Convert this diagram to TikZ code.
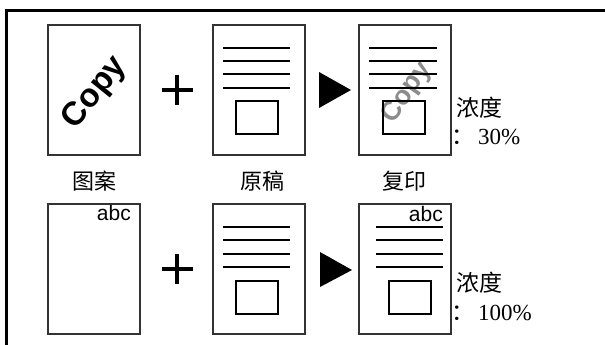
\documentclass[tikz,border=0pt]{standalone}
\usepackage{fontspec}
\setmainfont{Liberation Serif}
\setsansfont{Liberation Sans}
\newfontfamily\cjk{Noto Sans CJK SC}
\begin{document}
\begin{tikzpicture}[x=1pt,y=-1pt,
  page/.style={draw=black!80, line width=1.2pt, fill=white, inner sep=0pt, outer sep=0pt,
    minimum width=92pt, minimum height=130pt, anchor=north west},
  rulel/.style={line width=1.9pt},
  smallbox/.style={draw, line width=1.6pt, inner sep=0pt, minimum width=42pt, minimum height=33pt, anchor=north west},
  plussign/.style={line width=4.8pt},
  tri/.style={fill=black},
  cjklabel/.style={font=\cjk\fontsize{22}{24}\selectfont, inner sep=0pt},
  valtext/.style={font=\fontsize{23}{24}\selectfont, inner sep=0pt, anchor=west},
  abctext/.style={font=\sffamily\fontsize{21}{22}\selectfont, inner sep=0pt, anchor=north east},
  wm/.style={font=\sffamily\bfseries\fontsize{33}{34}\selectfont, inner sep=0pt}
]
\useasboundingbox (0,0) rectangle (605,345);
\fill[white] (0,0) rectangle (605,345);
% frame
\draw[line width=3pt] (6.5,345) -- (6.5,10.5) -- (605,10.5);

% ---------- row 1 ----------
\node[page] (pat1) at (48,25) {};
\node[wm, rotate=51] (cp1) at (95,93) {Copy};
\draw[plussign] (162,90) -- (193,90) (177,75) -- (177,105);
\node[page] (orig1) at (213,25) {};
\foreach \yy in {48,61,74,88} \draw[rulel] (223,\yy) -- (290,\yy);
\node[smallbox] (orect1) at (235,100) {};
\fill[tri] (319,72) -- (351,90) -- (319,108) -- cycle;
\node[page] (copy1) at (359,25) {};
\node[wm, rotate=55, text=black!45, font=\sffamily\bfseries\fontsize{27}{28}\selectfont] (cp2) at (407,93) {Copy};
\foreach \yy in {48,61,74,88} \draw[rulel] (369,\yy) -- (437,\yy);
\node[smallbox] (crect1) at (382,100) {};
\node[cjklabel, font=\cjk\fontsize{23}{24}\selectfont, anchor=west] (den1) at (456,108) {浓度};
\node[valtext] (val1) at (451,137) {{\cjk：}\,30\%};
\node[cjklabel] (lab1) at (94,181) {图案};
\node[cjklabel] (lab2) at (262,181) {原稿};
\node[cjklabel] (lab3) at (404,181) {复印};

% ---------- row 2 ----------
\node[page] (pat2) at (48,204) {};
\node[abctext] (abc1) at (131,205) {abc};
\draw[plussign] (162,269) -- (193,269) (177,254) -- (177,284);
\node[page] (orig2) at (213,204) {};
\foreach \yy in {227,240,254,267} \draw[rulel] (223,\yy) -- (290,\yy);
\node[smallbox] (orect2) at (235,280) {};
\fill[tri] (320,252) -- (352,270) -- (320,287) -- cycle;
\node[page] (copy2) at (359,204) {};
\node[abctext] (abc2) at (443,206) {abc};
\foreach \yy in {227,240,254,267} \draw[rulel] (376,\yy) -- (443,\yy);
\node[smallbox] (crect2) at (388,280) {};
\node[cjklabel, font=\cjk\fontsize{23}{24}\selectfont, anchor=west] (den2) at (456,283) {浓度};
\node[valtext] (val2) at (451,313) {{\cjk：}\,100\%};
\end{tikzpicture}
\end{document}
